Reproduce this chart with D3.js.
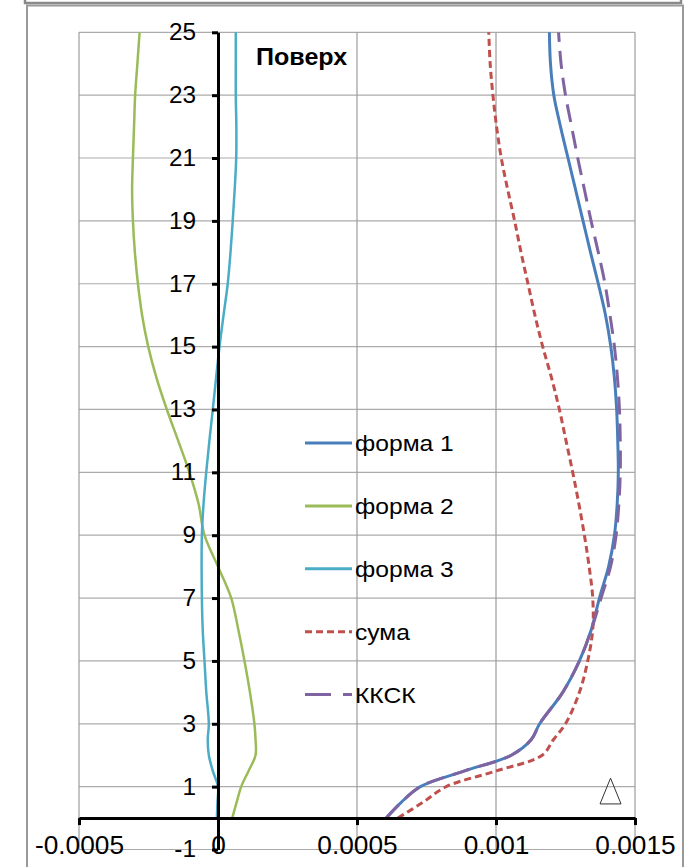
<!DOCTYPE html>
<html>
<head>
<meta charset="utf-8">
<script src="https://cdn.jsdelivr.net/npm/d3@7"></script>
<style>
  html, body { margin: 0; padding: 0; background: #fff; }
  svg { display: block; font-family: "Liberation Sans", Arial, sans-serif; }
</style>
</head>
<body>
<svg id="chart" width="685" height="867"></svg>
<script>
// Floor heights (vertical axis) at which the displacement profiles are given
const heights = [0, 0.5, 1, 1.5, 2, 2.5, 3, 4, 5, 6, 7, 8, 9, 10, 11, 12, 13, 14, 15, 16, 17, 18, 19, 20, 21, 22, 23, 24, 25];

// Mode shape contributions
const forma1 = [0.000605, 0.000659, 0.000728, 0.000887, 0.001055, 0.001127, 0.001157, 0.00124, 0.0013, 0.001343, 0.001372, 0.001405, 0.001426, 0.001436, 0.00144, 0.001438, 0.001434, 0.001426, 0.001413, 0.001394, 0.001368, 0.00134, 0.001313, 0.001286, 0.001259, 0.001232, 0.001208, 0.001196, 0.001192];
const forma2 = [0.000051, 0.000067, 0.0000835, 0.00011, 0.000135, 0.000135, 0.000131, 0.000115, 0.0000953, 0.000073, 0.0000475, 0.0, -0.0000486, -0.00007, -0.000103, -0.000143, -0.000184, -0.000221, -0.000251, -0.000273, -0.000288, -0.000299, -0.000306, -0.000309, -0.000306, -0.000302, -0.000298, -0.00029, -0.000282];
const forma3 = [-0.000004, -0.000002, 0.0, -0.0000187, -0.000033, -0.000037, -0.000033, -0.000042, -0.0000486, -0.000055, -0.000058, -0.000059, -0.000058, -0.000052, -0.0000424, -0.000031, -0.0000187, -0.000007, 0.0000054, 0.00002, 0.000035, 0.000045, 0.000053, 0.00006, 0.0000655, 0.000066, 0.000064, 0.000064, 0.000064];
// Simple sum and combined (ККСК) profiles
const suma = [0.000647, 0.000737, 0.000821, 0.001001, 0.001166, 0.001207, 0.00125, 0.0013, 0.00133, 0.001348, 0.001348, 0.001335, 0.001318, 0.001298, 0.001276, 0.001252, 0.001228, 0.0012, 0.001168, 0.00114, 0.001115, 0.00109, 0.001067, 0.001042, 0.001019, 0.001002, 0.000989, 0.000979, 0.000974];
const kksk = [0.000605, 0.000659, 0.000728, 0.000887, 0.001055, 0.001127, 0.001157, 0.00124, 0.0013, 0.001343, 0.001378, 0.001412, 0.001432, 0.001442, 0.001447, 0.001447, 0.001444, 0.001437, 0.001426, 0.00141, 0.001392, 0.001368, 0.001342, 0.001318, 0.001294, 0.001272, 0.00125, 0.001234, 0.001225];

const seriesNames = ["форма 1", "форма 2", "форма 3", "сума", "ККСК"];

// Axis ticks
const xTicks = [-0.0005, 0, 0.0005, 0.001, 0.0015];
const xTickLabels = ["-0.0005", "0", "0.0005", "0.001", "0.0015"];
const yTicks = [-1, 1, 3, 5, 7, 9, 11, 13, 15, 17, 19, 21, 23, 25];

const series = [
  { name: seriesNames[0], values: forma1, color: "#4a7ebb", width: 3,   dash: null },
  { name: seriesNames[1], values: forma2, color: "#9bbb59", width: 2.5, dash: null },
  { name: seriesNames[2], values: forma3, color: "#4bacc6", width: 2.5, dash: null },
  { name: seriesNames[3], values: suma,   color: "#c0504d", width: 3,   dash: "7,4" },
  { name: seriesNames[4], values: kksk,   color: "#8064a2", width: 3,   dash: "18,9" }
];

const svg = d3.select("#chart");

const x = d3.scaleLinear().domain([-0.0005, 0.0015]).range([79, 635]);
const y = d3.scaleLinear().domain([-1, 25]).range([849.5, 32.3]);

// Widen text horizontally about its anchor point
function stretch(sel, k) {
  sel.each(function () {
    const t = d3.select(this);
    const ax = +t.attr("x") || 0;
    t.attr("transform", `translate(${ax * (1 - k)},0) scale(${k},1)`);
  });
}

// Outer frames
svg.append("path")
  .attr("d", "M25,0 V3 H681 V0")
  .attr("fill", "none").attr("stroke", "#8a8a8a").attr("stroke-width", 2.5);
svg.append("path")
  .attr("d", "M27,870 V5.5 H683 V870")
  .attr("fill", "none").attr("stroke", "#9a9a9a").attr("stroke-width", 2);

// Gridlines
const grid = svg.append("g").attr("class", "grid");
grid.selectAll("line.h").data(yTicks).join("line")
  .attr("class", "h")
  .attr("x1", x.range()[0]).attr("x2", x.range()[1])
  .attr("y1", d => y(d)).attr("y2", d => y(d))
  .attr("stroke", "#ababab").attr("stroke-width", 1.2);
grid.selectAll("line.v").data(xTicks).join("line")
  .attr("class", "v")
  .attr("x1", d => x(d)).attr("x2", d => x(d))
  .attr("y1", y(25)).attr("y2", y(-1))
  .attr("stroke", "#9d9d9d").attr("stroke-width", 1.2);

// Data lines
const line = d3.line()
  .x(d => x(d[0]))
  .y(d => y(d[1]))
  .curve(d3.curveCatmullRom.alpha(0.5));

const lines = svg.append("g").attr("class", "lines");
series.forEach(s => {
  lines.append("path")
    .datum(s.values.map((v, i) => [v, heights[i]]))
    .attr("d", line)
    .attr("fill", "none")
    .attr("stroke", s.color)
    .attr("stroke-width", s.width)
    .attr("stroke-dasharray", s.dash)
    .attr("stroke-linejoin", "round");
});

// X axis along zero height
const xAxis = svg.append("g")
  .attr("transform", `translate(0,${y(0)})`)
  .call(d3.axisBottom(x).tickValues(xTicks).tickFormat((d, i) => xTickLabels[i])
    .tickSize(7).tickSizeOuter(0).tickPadding(11));
xAxis.select(".domain").attr("stroke", "#000").attr("stroke-width", 3);
xAxis.selectAll(".tick line").attr("stroke", "#000").attr("stroke-width", 3);
xAxis.selectAll(".tick text").attr("font-size", 25).attr("fill", "#000")
  .attr("font-family", "'Liberation Sans', Arial, sans-serif")
  .call(stretch, 1.05);

// Y axis along zero displacement
const yAxis = svg.append("g")
  .attr("transform", `translate(${x(0)},0)`)
  .call(d3.axisLeft(y).tickValues(yTicks).tickFormat(d => String(d))
    .tickSize(6).tickSizeOuter(0).tickPadding(16));
yAxis.select(".domain").attr("stroke", "#000").attr("stroke-width", 3);
yAxis.selectAll(".tick line").attr("stroke", "#000").attr("stroke-width", 3);
yAxis.selectAll(".tick text").attr("font-size", 23).attr("fill", "#000")
  .attr("font-family", "'Liberation Sans', Arial, sans-serif")
  .call(stretch, 1.06);

// Title inside the plot
svg.append("text")
  .attr("x", 256).attr("y", 65)
  .attr("font-size", 23).attr("font-weight", "bold")
  .text("Поверх")
  .call(stretch, 1.09);

// Support marker at the base
const markX = 0.001412, markBase = 0.45, markTop = 1.27, markHalf = 0.0000378;
svg.append("path")
  .attr("d", `M${x(markX - markHalf)},${y(markBase)} L${x(markX)},${y(markTop)} L${x(markX + markHalf)},${y(markBase)} Z`)
  .attr("fill", "none").attr("stroke", "#333").attr("stroke-width", 1);

// Legend
const legend = svg.append("g").attr("transform", "translate(305,443)");
const rows = legend.selectAll("g").data(series).join("g")
  .attr("transform", (d, i) => `translate(0,${i * 62.9})`);
rows.append("line")
  .attr("x1", 0).attr("x2", 47).attr("y1", 0).attr("y2", 0)
  .attr("stroke", d => d.color).attr("stroke-width", 3)
  .attr("stroke-dasharray", d => d.dash === "18,9" ? "26,12" : d.dash);
rows.append("text")
  .attr("x", 50).attr("y", 0).attr("dy", "0.36em")
  .attr("font-size", 22).attr("fill", "#000")
  .text(d => d.name)
  .call(stretch, 1.12);
</script>
</body>
</html>
